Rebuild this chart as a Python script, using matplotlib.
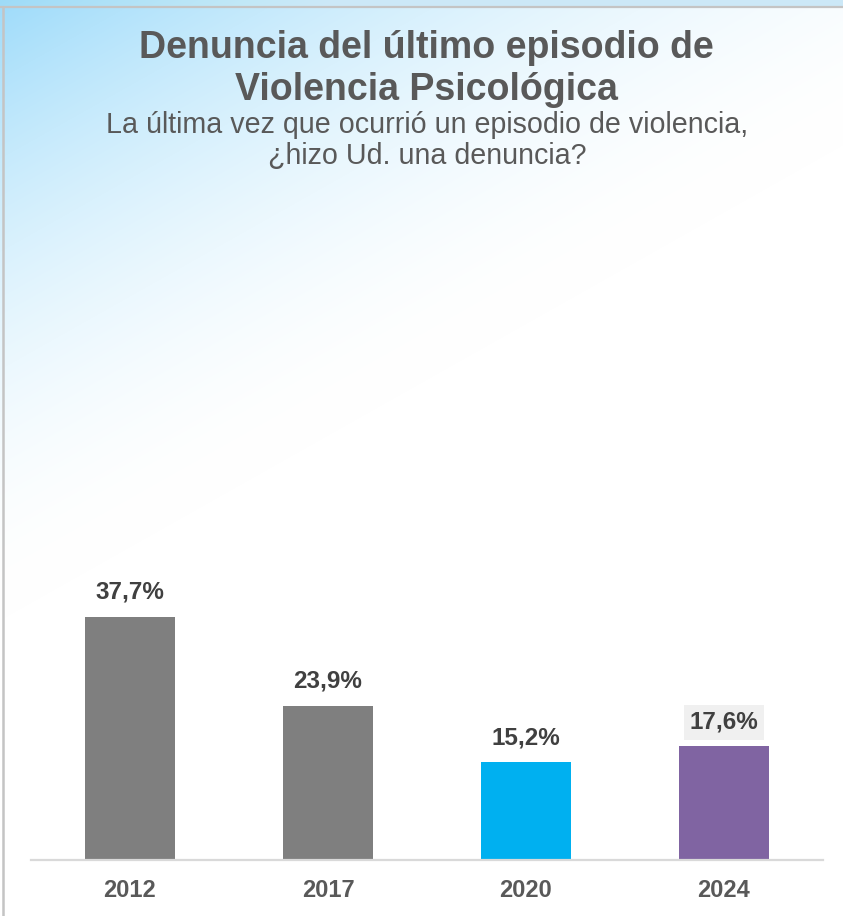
import numpy as np
import matplotlib
matplotlib.use("Agg")
import matplotlib.pyplot as plt
from matplotlib.lines import Line2D

years = ["2012", "2017", "2020", "2024"]
values = [37.7, 23.9, 15.2, 17.6]
labels = ["37,7%", "23,9%", "15,2%", "17,6%"]
colors = ["#7f7f7f", "#7f7f7f", "#00b0f0", "#8064a2"]

title = "Denuncia del último episodio de\nViolencia Psicológica"
subtitle = "La última vez que ocurrió un episodio de violencia,\n¿hizo Ud. una denuncia?"

W, H = 843, 916
plt.rcParams['font.family'] = ['Liberation Sans', 'DejaVu Sans']
fig = plt.figure(figsize=(W / 100, H / 100), dpi=100)

# background gradient
bg = fig.add_axes([0, 0, 1, 1], zorder=0)
yy, xx = np.mgrid[0:H, 0:W]
d = xx / 1100.0 + yy / 620.0
t = np.clip(1 - d, 0, 1) ** 1.8
blue = np.array([0.62, 0.86, 0.98])
img = np.ones((H, W, 3)) * (1 - t[..., None]) + blue * t[..., None]
img[0:6, :, :] = np.minimum(img[0:6, :, :], np.array([0.80, 0.91, 0.97]))
bg.imshow(img, extent=[0, W, H, 0], aspect='auto')
bg.set_xlim(0, W)
bg.set_ylim(H, 0)
bg.axis('off')
bg.add_line(Line2D([0, W], [6.5, 6.5], color="#c4c4c4", lw=1.6))
bg.add_line(Line2D([2.5, 2.5], [6.5, H], color="#c4c4c4", lw=1.8))

# chart axes
px = 6.45
left, right, base, top = 31, 823, 860, 200
ax = fig.add_axes([left / W, (H - base) / H, (right - left) / W, (base - top) / H], zorder=1)
ax.patch.set_alpha(0)
x = np.arange(len(years))
ax.bar(x, values, width=0.45, color=colors, zorder=2)
ax.set_xlim(-0.5, len(years) - 0.5)
ax.set_ylim(0, (base - top) / px)
for s in ["top", "right", "left"]:
    ax.spines[s].set_visible(False)
ax.spines["bottom"].set_color("#d9d9d9")
ax.spines["bottom"].set_linewidth(1.6)
ax.set_yticks([])
ax.set_xticks(x)
ax.set_xticklabels(years, fontsize=17, fontweight='bold', color="#595959")
ax.tick_params(axis='x', length=0, pad=14)
for i, (v, lab) in enumerate(zip(values, labels)):
    kw = {}
    if i == 3:
        kw['bbox'] = dict(boxstyle='square,pad=0.25', fc='#f0f0f0', ec='none')
    ax.text(i, v + 2.0, lab, ha='center', va='bottom', fontsize=17.5,
            fontweight='bold', color="#404040", **kw)

fig.text(426 / W, 1 - 30 / H, title, ha='center', va='top', fontsize=27,
         fontweight='bold', color="#595959", linespacing=1.22)
fig.text(427 / W, 1 - 111 / H, subtitle, ha='center', va='top', fontsize=20.6,
         color="#595959", linespacing=1.15)

fig.savefig("out.png", dpi=100)
